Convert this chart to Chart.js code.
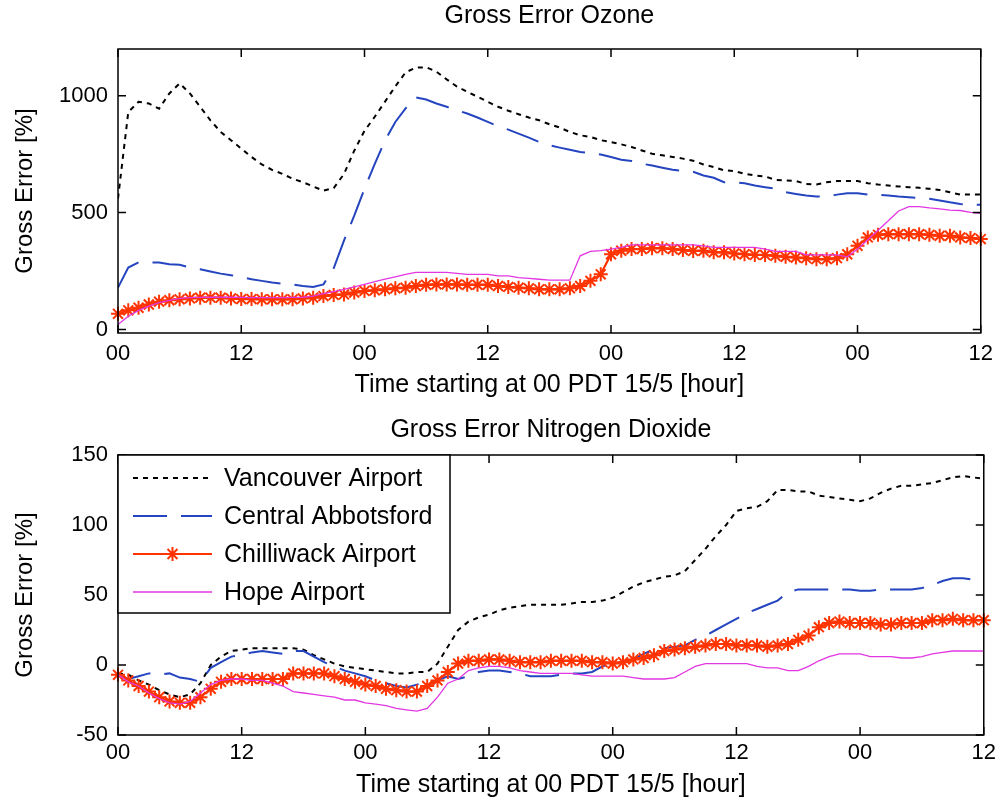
<!DOCTYPE html>
<html lang="en">
<head>
  <meta charset="UTF-8">
  <title>Gross Error Ozone / Nitrogen Dioxide</title>
  <script src="https://cdn.jsdelivr.net/npm/chart.js"></script>
  <style>
    body { margin: 0; background: #fff; }
    .wrap { position: relative; width: 1001px; height: 808px; }
    canvas { position: absolute; left: 0; }
    #ozone { top: 0; }
    #no2 { top: 400px; }
  </style>
</head>
<body>
  <div class="wrap">
    <canvas id="ozone" width="1001" height="400"></canvas>
    <canvas id="no2" width="1001" height="408"></canvas>
  </div>

  <script>
    // hours since 00 PDT 15/5
    const hours = Array.from({ length: 85 }, (_, i) => i);
    const xTickLabels = ['00', '12'];
    const o3YTicks = [0, 500, 1000];
    const no2YTicks = [-50, 0, 50, 100, 150];
    const stations = ['Vancouver Airport', 'Central Abbotsford', 'Chilliwack Airport', 'Hope Airport'];

    // Gross error ozone [%]
    const o3Vancouver = [
      560, 930, 974, 967, 945, 1010, 1053, 1010, 953, 895,
      845, 810, 774, 738, 706, 683, 666, 645, 630, 612,
      594, 605, 665, 765, 850, 910, 975, 1040, 1100, 1120,
      1122, 1103, 1070, 1039, 1017, 996, 974, 953, 936, 921,
      907, 895, 878, 864, 845, 831, 824, 810, 802, 792,
      781, 766, 752, 745, 738, 731, 722, 706, 695, 681,
      678, 666, 659, 655, 640, 638, 635, 623, 620, 630,
      635, 635, 635, 626, 620, 616, 612, 609, 606, 602,
      597, 587, 577, 577, 577
    ];
    const o3Abbotsford = [
      179, 265, 287, 287, 287, 279, 277, 265, 258, 248,
      239, 232, 225, 215, 208, 201, 196, 193, 186, 182,
      193, 262, 380, 487, 602, 709, 809, 888, 946, 993,
      984, 967, 953, 938, 924, 907, 888, 870, 855, 838,
      821, 802, 788, 778, 769, 759, 755, 749, 738, 726,
      721, 709, 702, 692, 683, 678, 675, 659, 649, 630,
      630, 626, 616, 609, 602, 587, 580, 573, 569, 569,
      577, 583, 583, 577, 577, 573, 569, 566, 563, 559,
      552, 544, 537, 534, 534
    ];
    const o3Chilliwack = [
      67, 82, 93, 107, 119, 125, 129, 133, 136, 136,
      136, 133, 130, 130, 129, 129, 129, 129, 133, 136,
      143, 148, 150, 158, 165, 168, 172, 176, 179, 186,
      191, 193, 193, 193, 191, 191, 191, 186, 182, 179,
      176, 172, 172, 172, 176, 186, 208, 236, 322, 337,
      344, 344, 348, 348, 344, 340, 336, 337, 330, 330,
      325, 322, 319, 319, 315, 311, 308, 305, 301, 301,
      305, 322, 358, 394, 405, 408, 408, 408, 408, 405,
      401, 401, 394, 391, 387
    ];
    const o3Hope = [
      21, 57, 82, 100, 115, 125, 133, 136, 137, 138,
      138, 138, 137, 136, 136, 136, 136, 137, 138, 143,
      153, 162, 172, 182, 193, 205, 215, 225, 236, 244,
      244, 244, 244, 240, 236, 236, 236, 229, 229, 222,
      219, 215, 211, 211, 211, 315, 334, 337, 344, 351,
      362, 362, 362, 362, 362, 362, 362, 358, 351, 351,
      351, 351, 351, 344, 334, 334, 334, 319, 319, 319,
      319, 311, 344, 384, 425, 465, 507, 526, 526, 520,
      516, 511, 509, 501, 497
    ];

    // Gross error nitrogen dioxide [%]
    const no2Vancouver = [
      -6, -7, -11, -14, -18, -21, -23, -21, -13, 0,
      6, 10, 11, 12, 12, 12, 12, 12, 11, 7,
      4, 1, -1, -2, -3, -4, -5, -6, -6, -5,
      -5, 1, 13, 25, 31, 34, 36, 39, 41, 42,
      43, 43, 43, 43, 44, 45, 45, 46, 48, 52,
      56, 59, 61, 63, 64, 67, 75, 83, 92, 100,
      110, 112, 113, 117, 125, 125, 124, 124, 121, 120,
      119, 118, 117, 119, 123, 126, 128, 128, 129, 130,
      132, 134, 135, 134, 133
    ];
    const no2Abbotsford = [
      -7, -10, -8, -6, -7, -6, -9, -10, -12, -2,
      2, 6, 7, 9, 10, 9, 8, 10, 10, 6,
      2, -1, -4, -6, -8, -11, -13, -15, -16, -14,
      -12, -11, -8, -10, -8, -5, -4, -4, -5, -6,
      -8, -8, -8, -7, -6, -6, -5, -1, 1, 2,
      4, 8, 11, 12, 13, 14, 18, 21, 25, 29,
      33, 37, 40, 43, 46, 52, 54, 54, 54, 54,
      54, 54, 53, 53, 54, 54, 54, 54, 55, 57,
      60, 62, 62, 61, 60
    ];
    const no2Chilliwack = [
      -7, -11, -15, -19, -23, -26, -27, -27, -23, -17,
      -12, -10, -10, -10, -10, -10, -10, -6, -6, -6,
      -6, -8, -10, -12, -14, -15, -17, -18, -19, -19,
      -15, -11, -5, 1, 3, 3, 4, 4, 3, 2,
      2, 2, 3, 3, 3, 3, 2, 2, 1, 2,
      4, 5, 7, 10, 11, 12, 13, 14, 15, 15,
      14, 14, 14, 13, 14, 15, 18, 21, 27, 30,
      31, 30, 30, 30, 29, 29, 30, 30, 30, 32,
      32, 33, 32, 32, 32
    ];
    const no2Hope = [
      -7, -12, -15, -20, -24, -27, -28, -26, -20, -14,
      -11, -10, -10, -11, -11, -13, -15, -19, -20, -21,
      -22, -23, -25, -25, -27, -28, -29, -31, -32, -33,
      -31, -23, -13, -10, -4, -2, -1, -1, -2, -4,
      -5, -6, -6, -6, -6, -7, -8, -8, -8, -8,
      -9, -10, -10, -10, -9, -5, -1, 1, 1, 1,
      1, 1, -1, -2, -2, -4, -4, -1, 3, 6,
      8, 8, 8, 6, 6, 6, 5, 5, 6, 8,
      9, 10, 10, 10, 10
    ];

    const FONT = "'Liberation Sans', Arial, sans-serif";
    const COLORS = ['#000000', '#2545c0', '#ff3300', '#e236e2'];
    const STYLES = [
      { borderColor: COLORS[0], borderWidth: 2, borderDash: [5, 5], pointRadius: 0, order: 3 },
      { borderColor: COLORS[1], borderWidth: 2, borderDash: [34, 14], pointRadius: 0, order: 2 },
      { borderColor: COLORS[2], borderWidth: 2.2, pointStyle: 'star', pointRadius: 7,
        pointBorderColor: COLORS[2], pointBorderWidth: 2, order: 1, clip: 10 },
      { borderColor: COLORS[3], borderWidth: 1.3, pointRadius: 0, order: 0 }
    ];

    function makeSets(seriesList) {
      return seriesList.map((vals, i) => Object.assign({
        label: stations[i],
        data: hours.map((h, j) => ({ x: h, y: vals[j] })),
        fill: false,
        tension: 0
      }, STYLES[i]));
    }

    // matlab style box with inward ticks on all four sides
    const boxPlugin = {
      id: 'box',
      afterDatasetsDraw(chart) {
        const { ctx, chartArea: a, scales: { x, y } } = chart;
        ctx.save();
        ctx.strokeStyle = '#000';
        ctx.lineWidth = 1.5;
        ctx.strokeRect(a.left, a.top, a.right - a.left, a.bottom - a.top);
        ctx.beginPath();
        x.ticks.forEach(t => {
          const px = x.getPixelForValue(t.value);
          ctx.moveTo(px, a.bottom); ctx.lineTo(px, a.bottom - 8);
          ctx.moveTo(px, a.top); ctx.lineTo(px, a.top + 8);
        });
        y.ticks.forEach(t => {
          const py = y.getPixelForValue(t.value);
          ctx.moveTo(a.left, py); ctx.lineTo(a.left + 8, py);
          ctx.moveTo(a.right, py); ctx.lineTo(a.right - 8, py);
        });
        ctx.stroke();
        ctx.restore();
      }
    };

    // legend box in the upper left corner of the lower plot
    const legendPlugin = {
      id: 'boxLegend',
      afterDraw(chart) {
        const { ctx, chartArea: a } = chart;
        const w = 332, h = 158;
        ctx.save();
        ctx.fillStyle = '#fff';
        ctx.fillRect(a.left, a.top, w, h);
        ctx.strokeStyle = '#000';
        ctx.lineWidth = 1.5;
        ctx.strokeRect(a.left, a.top, w, h);
        chart.data.datasets.forEach((ds, i) => {
          const yy = a.top + 23 + i * 38;
          const x0 = a.left + 15, x1 = a.left + 94;
          ctx.strokeStyle = ds.borderColor;
          ctx.lineWidth = ds.borderWidth;
          ctx.setLineDash(ds.borderDash || []);
          ctx.beginPath();
          ctx.moveTo(x0, yy); ctx.lineTo(x1, yy);
          ctx.stroke();
          ctx.setLineDash([]);
          if (ds.pointStyle === 'star') {
            const cx = (x0 + x1) / 2, r = 7;
            ctx.lineWidth = 2;
            ctx.beginPath();
            for (let k = 0; k < 4; k++) {
              const ang = k * Math.PI / 4;
              ctx.moveTo(cx - r * Math.cos(ang), yy - r * Math.sin(ang));
              ctx.lineTo(cx + r * Math.cos(ang), yy + r * Math.sin(ang));
            }
            ctx.stroke();
          }
          ctx.fillStyle = '#000';
          ctx.font = '25px ' + FONT;
          ctx.textBaseline = 'middle';
          ctx.fillText(ds.label, a.left + 106, yy + 1);
        });
        ctx.restore();
      }
    };

    function makeOptions(cfg) {
      return {
        responsive: false,
        animation: false,
        devicePixelRatio: 1,
        events: [],
        layout: { padding: { left: 0, right: 14, top: 0, bottom: 0 } },
        plugins: {
          legend: { display: false },
          tooltip: { enabled: false },
          title: {
            display: true,
            fullSize: false,
            text: cfg.title,
            color: '#000',
            font: { family: FONT, size: 25, weight: 'normal' },
            padding: cfg.titlePad
          }
        },
        scales: {
          x: {
            type: 'linear',
            min: 0,
            max: 84,
            grid: { display: false, drawTicks: false },
            border: { display: false },
            ticks: {
              stepSize: 12,
              color: '#000',
              padding: cfg.xTickPad,
              maxRotation: 0,
              font: { family: FONT, size: 22 },
              callback: v => xTickLabels[(v / 12) % 2]
            },
            title: {
              display: true,
              text: 'Time starting at 00 PDT 15/5 [hour]',
              color: '#000',
              font: { family: FONT, size: 25 },
              padding: { top: 0, bottom: cfg.xTitlePad }
            },
            afterFit: s => { s.height = cfg.xHeight; }
          },
          y: {
            min: cfg.yMin,
            max: cfg.yMax,
            grid: { display: false, drawTicks: false },
            border: { display: false },
            ticks: {
              color: '#000',
              padding: 10,
              font: { family: FONT, size: 22 },
              callback: v => String(v)
            },
            afterBuildTicks: s => { s.ticks = cfg.yTicks.map(v => ({ value: v })); },
            title: {
              display: true,
              text: 'Gross Error [%]',
              color: '#000',
              font: { family: FONT, size: 24 },
              padding: { top: 11, bottom: 0 }
            },
            afterFit: s => { s.width = 118; }
          }
        }
      };
    }

    new Chart(document.getElementById('ozone'), {
      type: 'line',
      data: { datasets: makeSets([o3Vancouver, o3Abbotsford, o3Chilliwack, o3Hope]) },
      options: makeOptions({
        title: 'Gross Error Ozone', titlePad: { top: 1, bottom: 18 },
        xTickPad: 8, xTitlePad: 0, xHeight: 67,
        yMin: -15, yMax: 1200, yTicks: o3YTicks
      }),
      plugins: [boxPlugin]
    });

    new Chart(document.getElementById('no2'), {
      type: 'line',
      data: { datasets: makeSets([no2Vancouver, no2Abbotsford, no2Chilliwack, no2Hope]) },
      options: makeOptions({
        title: 'Gross Error Nitrogen Dioxide', titlePad: { top: 15, bottom: 10 },
        xTickPad: 5, xTitlePad: 8, xHeight: 73,
        yMin: -50, yMax: 150, yTicks: no2YTicks
      }),
      plugins: [boxPlugin, legendPlugin]
    });
  </script>
</body>
</html>
